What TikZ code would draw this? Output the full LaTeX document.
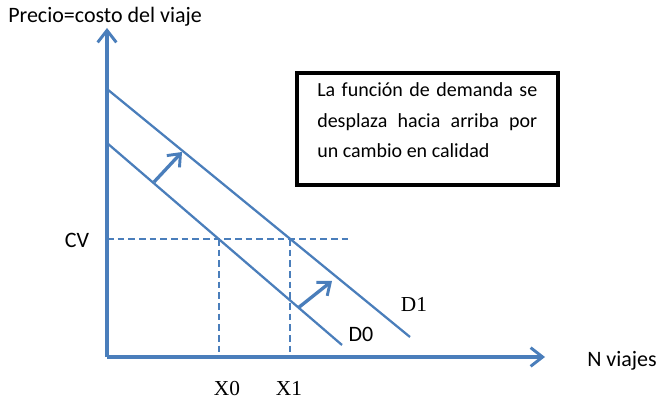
\documentclass[tikz,border=0pt]{standalone}
\usepackage{fontspec}
\setmainfont{Carlito}
\newfontfamily\serifx{Liberation Serif}
\usetikzlibrary{arrows.meta}
\definecolor{ob}{HTML}{4A7EBB}
\begin{document}
\begin{tikzpicture}[x=0.75pt,y=-0.75pt,
  axisline/.style={draw=ob,line width=2.6pt,-{Straight Barb[length=9pt,width=14pt,line width=2.2pt]}},
  shiftarrow/.style={draw=ob,line width=2.5pt,-{Straight Barb[length=8pt,width=13pt,line width=2.2pt]}},
  demand/.style={draw=ob,line width=1.7pt},
  guide/.style={draw=ob,line width=1.7pt,dash pattern=on 5pt off 3pt},
  sanslabel/.style={font=\fontsize{16.5}{19}\selectfont,inner sep=0pt},
  seriflabel/.style={font=\serifx\fontsize{16}{19}\selectfont,inner sep=0pt},
  boxtext/.style={font=\fontsize{15}{18}\selectfont,inner sep=0pt,anchor=base west}]
\useasboundingbox (0,0) rectangle (659,398);
% axes
\coordinate (o) at (107,357);
\coordinate (ytop) at (107,28);
\coordinate (xend) at (545,357);
\draw[axisline] (o) -- (ytop);
\draw[axisline] (o) -- (xend);
% demand curves
\coordinate (d1s) at (107,89);
\coordinate (d1e) at (410,337);
\coordinate (d0s) at (107,143);
\coordinate (d0e) at (342,345);
\draw[demand] (d1s) -- (d1e);
\draw[demand] (d0s) -- (d0e);
% CV line and projections
\coordinate (cvs) at (107,239);
\coordinate (cve) at (352,239);
\draw[guide] (cvs) -- (cve);
\coordinate (p0) at (intersection of d0s--d0e and cvs--cve);
\coordinate (p1) at (intersection of d1s--d1e and cvs--cve);
\coordinate (q0) at (p0 |- o);
\coordinate (q1) at (p1 |- o);
\draw[guide] (p0) -- (q0);
\draw[guide] (p1) -- (q1);
% shift arrows
\coordinate (a1s) at (154,182);
\coordinate (a1e) at (182,152);
\coordinate (a2s) at (298,308);
\coordinate (a2e) at (332,281);
\draw[shiftarrow] (a1s) -- (a1e);
\draw[shiftarrow] (a2s) -- (a2e);
% labels
\node[sanslabel,anchor=base west] (title) at (8,23) {Precio=costo del viaje};
\node[sanslabel,anchor=base] (cv) at (77,248) {CV};
\node[sanslabel,anchor=base west] (nv) at (587,366) {N viajes};
\node[sanslabel,anchor=base] (d0) at (361,341) {D0};
\node[seriflabel,anchor=base] (d1) at (414,311) {D1};
\node[seriflabel,anchor=base] (x0) at (227,395) {X0};
\node[seriflabel,anchor=base] (x1) at (289,395) {X1};
% text box
\draw[line width=2.6pt] (297,73) rectangle (558,185);
\node[boxtext] (l1) at (317,97) {\makebox[165pt][s]{La función de demanda se}};
\node[boxtext] (l2) at (317,128) {\makebox[165pt][s]{desplaza hacia arriba por}};
\node[boxtext] (l3) at (317,158) {un cambio en calidad};
\end{tikzpicture}
\end{document}
